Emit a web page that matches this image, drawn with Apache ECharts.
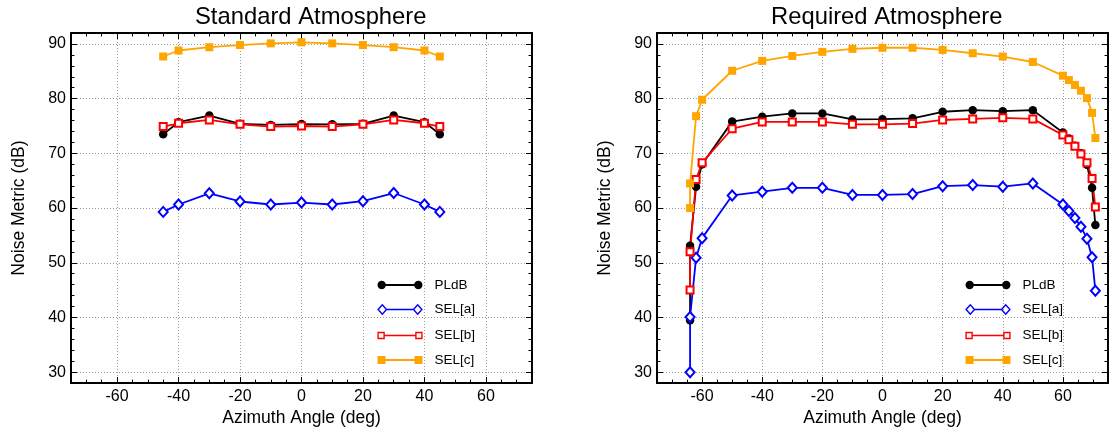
<!DOCTYPE html>
<html><head><meta charset="utf-8">
<script src="https://cdn.jsdelivr.net/npm/echarts@6/dist/echarts.min.js"></script>
<style>html,body{margin:0;padding:0;background:#fff}#c{width:1111px;height:432px}</style>
</head><body><div id="c"></div>
<script>
// ---- data ----
const seriesNames = ['PLdB', 'SEL[a]', 'SEL[b]', 'SEL[c]'];
const titles = ['Standard Atmosphere', 'Required Atmosphere'];
const xTickLabels = [-60, -40, -20, 0, 20, 40, 60];
const yTickLabels = [30, 40, 50, 60, 70, 80, 90];

const stdAngles = [-45, -40, -30, -20, -10, 0, 10, 20, 30, 40, 45];
const stdPLdB = [73.5, 75.7, 76.9, 75.4, 75.2, 75.35, 75.3, 75.4, 76.9, 75.7, 73.5];
const stdSELa = [59.3, 60.65, 62.7, 61.2, 60.65, 61.0, 60.65, 61.25, 62.75, 60.65, 59.3];
const stdSELb = [74.9, 75.5, 76.1, 75.3, 74.9, 75.0, 74.9, 75.3, 76.1, 75.5, 74.9];
const stdSELc = [87.7, 88.8, 89.4, 89.8, 90.1, 90.3, 90.1, 89.8, 89.4, 88.8, 87.7];

const reqAngles = [-64, -64, -62, -60, -50, -40, -30, -20, -10, 0, 10, 20, 30, 40, 50, 60, 62, 64, 66, 68, 69.7, 70.8];
const reqPLdB = [39.5, 53.1, 63.9, 68.0, 75.8, 76.7, 77.3, 77.3, 76.2, 76.25, 76.4, 77.6, 77.9, 77.7, 77.9, 73.8, 72.7, 71.4, 70.0, 67.9, 63.7, 56.9];
const reqSELa = [30.0, 40.1, 50.9, 54.5, 62.3, 63.0, 63.7, 63.7, 62.4, 62.4, 62.55, 64.0, 64.2, 63.9, 64.5, 60.65, 59.45, 58.2, 56.6, 54.4, 51.0, 44.9];
const reqSELb = [45.0, 52.0, 65.2, 68.3, 74.5, 75.75, 75.75, 75.75, 75.3, 75.3, 75.45, 76.1, 76.3, 76.5, 76.3, 73.35, 72.5, 71.3, 69.9, 68.3, 65.4, 60.2];
const reqSELc = [60.0, 64.5, 76.8, 79.8, 85.1, 86.9, 87.8, 88.55, 89.1, 89.3, 89.3, 88.9, 88.3, 87.7, 86.7, 84.2, 83.4, 82.5, 81.45, 80.1, 77.4, 72.8];

// ---- styling ----
const FONT = '"Liberation Sans", Arial, Helvetica, sans-serif';
const sty = {
  'PLdB':   {color: '#000000', symbol: 'circle', size: 8.5, empty: false,
             icon: 'path://M0,0 M45,12 M0,6 A4.2,4.2 0 1,1 8.4,6 A4.2,4.2 0 1,1 0,6 Z M36.6,6 A4.2,4.2 0 1,1 45,6 A4.2,4.2 0 1,1 36.6,6 Z M6,5 L39,5 L39,7 L6,7 Z'},
  'SEL[a]': {color: '#0000ff', symbol: 'emptyDiamond', size: [9, 10], empty: true,
             icon: 'path://M0,0 M45,12 M0.6,6 L4.8,1.2 L9,6 L4.8,10.8 Z M36,6 L40.2,1.2 L44.4,6 L40.2,10.8 Z M9,6 L36,6'},
  'SEL[b]': {color: '#ff0000', symbol: 'emptyRect', size: 7, empty: true,
             icon: 'path://M0,0 M45,12 M0.6,3 L6.6,3 L6.6,9 L0.6,9 Z M38.4,3 L44.4,3 L44.4,9 L38.4,9 Z M6.6,6 L38.4,6'},
  'SEL[c]': {color: '#ffa500', symbol: 'rect', size: 8, empty: false,
             icon: 'path://M0,0 M45,12 M0,2 L8,2 L8,10 L0,10 Z M37,2 L45,2 L45,10 L37,10 Z M8,5 L37,5 L37,7 L8,7 Z'}
};

const grids = [
  {left: 71, top: 33, width: 461, height: 353},
  {left: 657, top: 33, width: 460, height: 353}
];

function xAxisPair(g) {
  const common = {
    type: 'value', gridIndex: g, min: -75, max: 75, splitNumber: 7,
    axisLine: {onZero: false, lineStyle: {color: '#000', width: 2}},
    axisTick: {inside: true, length: 6, lineStyle: {color: '#000', width: 1}},
    minorTick: {show: true, splitNumber: 4, length: 3.5, lineStyle: {color: '#000', width: 1}}
  };
  return [
    Object.assign({}, common, {
      position: 'bottom',
      axisLabel: {margin: 5, fontSize: 16, color: '#000', fontFamily: FONT,
        formatter: v => xTickLabels.indexOf(v) >= 0 ? String(v) : ''},
      splitLine: {show: true, lineStyle: {color: '#9a9a9a', width: 1, type: [1, 2]}},
      name: 'Azimuth Angle (deg)', nameLocation: 'middle', nameGap: 25,
      nameTextStyle: {fontSize: 17.5, color: '#000', fontFamily: FONT}
    }),
    Object.assign({}, common, {
      position: 'top', axisLabel: {show: false}, splitLine: {show: false}
    })
  ];
}
function yAxisPair(g) {
  const common = {
    type: 'value', gridIndex: g, min: 28, max: 92, splitNumber: 6,
    axisLine: {onZero: false, lineStyle: {color: '#000', width: 2}},
    axisTick: {inside: true, length: 6, lineStyle: {color: '#000', width: 1}},
    minorTick: {show: true, splitNumber: 5, length: 3.5, lineStyle: {color: '#000', width: 1}}
  };
  return [
    Object.assign({}, common, {
      position: 'left',
      axisLabel: {margin: 5, fontSize: 16, color: '#000', fontFamily: FONT,
        formatter: v => yTickLabels.indexOf(v) >= 0 ? String(v) : ''},
      splitLine: {show: true, lineStyle: {color: '#9a9a9a', width: 1, type: [1, 2]}},
      name: 'Noise Metric (dB)', nameLocation: 'middle', nameGap: 43,
      nameTextStyle: {fontSize: 17.5, color: '#000', fontFamily: FONT}
    }),
    Object.assign({}, common, {
      position: 'right', axisLabel: {show: false}, splitLine: {show: false}
    })
  ];
}

function makeSeries(name, angles, vals, axisIdx) {
  const s = sty[name];
  return {
    type: 'line', name: name,
    xAxisIndex: axisIdx, yAxisIndex: axisIdx,
    data: angles.map((a, i) => [a, vals[i]]),
    symbol: s.symbol, symbolSize: s.size, showAllSymbol: true,
    lineStyle: {color: s.color, width: 1.8},
    itemStyle: s.empty ? {color: s.color, borderColor: s.color, borderWidth: 1.3}
                       : {color: s.color, borderWidth: 0},
    emphasis: {disabled: true},
    animation: false
  };
}

function legendFor(left) {
  return {
    orient: 'vertical', left: left, top: 278, padding: 0,
    itemWidth: 45, itemHeight: 12, itemGap: 9, selectedMode: false,
    textStyle: {fontSize: 13.5, color: '#000', fontFamily: FONT, padding: [0, 0, 0, 7]},
    data: seriesNames.map(n => {
      const s = sty[n];
      return {
        name: n, icon: s.icon,
        itemStyle: s.empty ? {color: 'none', borderColor: s.color, borderWidth: 1.4}
                           : {color: s.color, borderWidth: 0}
      };
    })
  };
}

const stdSets = [stdPLdB, stdSELa, stdSELb, stdSELc];
const reqSets = [reqPLdB, reqSELa, reqSELb, reqSELc];

const option = {
  backgroundColor: '#ffffff',
  animation: false,
  title: [
    {text: titles[0], left: 195, top: 5, padding: 0,
     textStyle: {fontSize: 23.8, fontWeight: 'normal', color: '#000', fontFamily: FONT}},
    {text: titles[1], left: 771, top: 5, padding: 0,
     textStyle: {fontSize: 23.8, fontWeight: 'normal', color: '#000', fontFamily: FONT}}
  ],
  grid: grids,
  xAxis: xAxisPair(0).concat(xAxisPair(1)),
  yAxis: yAxisPair(0).concat(yAxisPair(1)),
  legend: [legendFor(375), legendFor(963)],
  series: seriesNames.map((n, i) => makeSeries(n, stdAngles, stdSets[i], 0))
    .concat(seriesNames.map((n, i) => makeSeries(n, reqAngles, reqSets[i], 2)))
};

const chart = echarts.init(document.getElementById('c'), null, {renderer: 'canvas'});
chart.setOption(option);
</script>
</body></html>
